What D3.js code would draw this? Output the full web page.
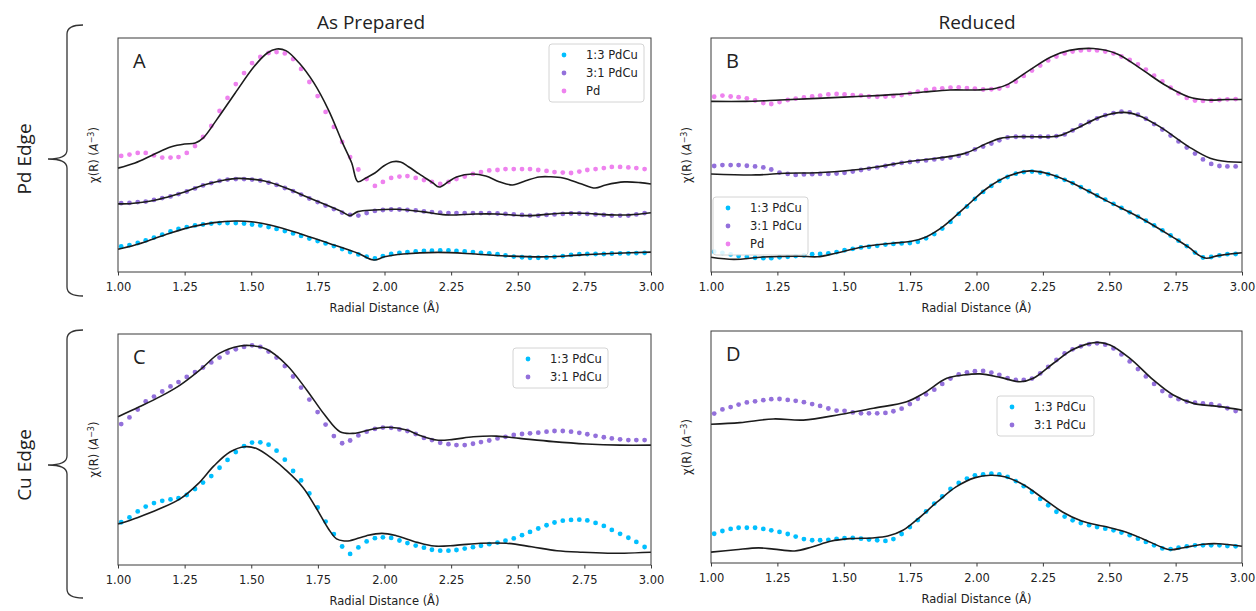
<!DOCTYPE html>
<html>
<head>
<meta charset="utf-8">
<script src="https://cdn.jsdelivr.net/npm/d3@7"></script>
<style>
  body { margin: 0; background: #fff; }
  text { fill: #222; }
</style>
</head>
<body>
<div id="fig"></div>
<script>
// R grid of the Fourier transform (Å) - one dot per point
const rGrid = [
  1.012,1.043,1.074,1.104,1.135,1.166,1.197,1.227,1.258,1.289,
  1.319,1.350,1.381,1.411,1.442,1.473,1.503,1.534,1.565,1.595,
  1.626,1.657,1.687,1.718,1.749,1.779,1.810,1.841,1.871,1.902,
  1.933,1.964,1.994,2.025,2.056,2.086,2.117,2.148,2.178,2.209,
  2.240,2.270,2.301,2.332,2.362,2.393,2.424,2.454,2.485,2.516,
  2.546,2.577,2.608,2.638,2.669,2.700,2.731,2.761,2.792,2.823,
  2.853,2.884,2.915,2.945,2.976
];
const xTicks = [1.00, 1.25, 1.50, 1.75, 2.00, 2.25, 2.50, 2.75, 3.00];
const seriesNames = ['1:3 PdCu', '3:1 PdCu', 'Pd'];
const columnTitles = ['As Prepared', 'Reduced'];
const rowTitles = ['Pd Edge', 'Cu Edge'];

// chi(R), stacked with offsets, arbitrary units (0-100 of panel height)
// --- A: Pd edge, as prepared
const aCyan = [
  10.9,11.5,12.4,13.5,14.7,16.0,17.3,18.4,19.2,19.9,
  20.3,20.7,20.9,20.9,20.9,20.7,20.3,19.9,19.2,18.4,
  17.5,16.5,15.4,14.3,13.2,12.2,11.1,9.8,8.5,7.5,
  6.6,5.8,6.8,7.7,8.2,8.5,8.8,9.0,9.1,9.2,
  9.2,9.0,8.8,8.5,8.2,8.0,7.6,7.1,6.6,6.3,
  6.1,6.1,6.2,6.5,6.8,7.3,7.6,7.7,7.7,7.7,
  7.9,8.0,8.0,8.1,8.2
];
const aPurple = [
  29.4,29.5,29.9,30.1,30.8,31.6,32.3,33.3,34.4,35.7,
  37.0,38.0,38.9,39.5,39.7,39.7,39.5,39.1,38.2,37.2,
  35.9,34.6,33.1,31.4,29.9,28.4,26.9,25.4,24.4,24.1,
  25.2,26.1,26.5,26.7,26.7,26.5,26.3,25.9,25.6,25.4,
  25.2,25.2,25.2,25.2,25.2,25.2,25.0,24.8,24.6,24.4,
  24.1,24.1,24.4,24.6,24.8,25.0,25.0,24.8,24.6,24.4,
  24.1,24.1,24.1,24.6,25.2
];
const aPink = [
  49.6,50.2,50.9,50.9,49.8,48.9,48.9,49.1,50.9,53.8,
  57.7,62.4,68.8,74.4,80.3,85.0,89.3,91.9,93.6,94.0,
  93.4,91.0,86.8,81.2,75.2,68.4,62.0,55.6,49.1,43.8,
  39.7,36.8,38.5,40.2,40.8,41.0,40.2,39.3,38.5,37.6,
  38.5,39.7,40.8,41.9,42.7,43.4,43.6,44.0,44.0,44.0,
  44.0,43.6,43.2,42.7,42.5,42.3,42.9,43.6,44.0,44.4,
  44.9,44.9,44.7,44.4,44.0
];
const aCyanFit = [[1.00,9.7],[1.064,11.5],[1.13,14.0],[1.20,16.8],[1.28,19.4],[1.36,21.1],[1.44,21.8],[1.50,21.5],[1.57,20.1],[1.68,16.5],[1.79,12.3],[1.90,8.0],[1.96,5.1],[2.00,6.5],[2.07,7.7],[2.20,8.4],[2.34,7.7],[2.47,6.8],[2.61,6.5],[2.74,7.3],[2.87,8.0],[3.00,8.5]];
const aPurpleFit = [[1.00,29.1],[1.05,29.3],[1.10,29.9],[1.15,31.0],[1.20,32.5],[1.25,34.2],[1.30,36.3],[1.35,38.0],[1.40,39.3],[1.45,40.0],[1.50,39.7],[1.55,38.9],[1.60,37.2],[1.65,35.0],[1.70,32.5],[1.75,30.1],[1.80,27.8],[1.84,25.8],[1.87,24.1],[1.90,25.8],[1.96,26.5],[2.045,26.8],[2.14,25.8],[2.23,24.4],[2.34,24.8],[2.42,24.8],[2.54,24.1],[2.66,25.1],[2.74,25.1],[2.85,24.4],[2.92,24.4],[3.00,25.3]];
const aPinkFit = [[1.00,44.4],[1.064,46.6],[1.13,50.0],[1.20,53.5],[1.25,54.7],[1.29,55.1],[1.32,57.3],[1.37,65.0],[1.44,76.5],[1.51,87.7],[1.56,93.6],[1.595,95.3],[1.63,94.6],[1.68,89.3],[1.735,80.8],[1.79,69.2],[1.843,55.1],[1.877,46.6],[1.90,38.6],[1.93,40.2],[1.964,42.3],[1.997,45.3],[2.03,47.1],[2.06,47.0],[2.09,45.0],[2.13,41.9],[2.18,38.2],[2.205,36.3],[2.24,38.6],[2.27,40.6],[2.33,41.9],[2.38,41.0],[2.43,38.6],[2.48,37.2],[2.53,39.0],[2.58,40.6],[2.62,40.7],[2.67,40.2],[2.74,37.6],[2.79,35.9],[2.83,37.2],[2.90,38.5],[2.96,38.2],[3.00,37.6]];

// --- B: Pd edge, reduced
const bCyan = [
  8.7,8.2,7.5,6.8,6.5,6.1,5.9,5.9,6.3,6.5,
  6.8,7.1,7.6,7.7,8.0,8.5,9.3,9.9,10.5,10.8,
  11.2,11.7,12.0,12.2,12.4,12.9,14.4,16.2,18.6,21.4,
  24.8,28.0,31.2,34.2,36.8,38.9,40.6,42.0,42.7,42.9,
  42.5,41.8,40.7,39.4,38.0,36.3,34.5,32.7,30.9,29.1,
  27.4,25.5,23.7,21.9,19.9,17.8,15.6,13.4,11.1,8.3,
  6.2,6.4,7.1,7.6,7.7
];
const bPurple = [
  45.3,45.7,45.7,45.7,45.4,45.1,44.7,43.8,42.5,41.9,
  41.5,41.7,41.8,41.9,41.9,42.1,42.4,42.9,43.6,44.2,
  44.7,45.3,46.0,46.6,47.0,47.4,47.7,48.1,48.5,48.9,
  49.6,50.6,52.4,53.6,54.9,56.3,57.5,57.8,57.8,57.8,
  57.8,57.8,58.1,58.8,60.5,62.6,64.1,65.6,67.0,67.9,
  68.5,68.2,67.2,65.5,63.2,60.9,58.3,55.8,53.2,50.6,
  48.1,46.2,45.3,45.1,45.1
];
const bPink = [
  74.9,75.4,75.0,74.7,74.2,73.3,72.2,71.8,72.6,73.5,
  74.1,74.6,75.0,75.4,75.9,76.1,75.9,75.6,75.4,75.0,
  74.9,75.0,75.2,75.6,76.3,77.1,77.8,78.2,78.5,78.8,
  78.9,78.6,78.4,78.0,78.1,78.4,79.5,81.4,83.8,86.1,
  88.2,90.4,92.1,93.4,94.2,94.7,94.9,94.7,94.2,93.4,
  92.1,90.6,88.7,86.5,83.9,81.4,78.8,76.3,74.4,73.3,
  73.1,73.2,73.5,73.8,73.9
];
const bCyanFit = [[1.00,6.3],[1.086,5.4],[1.195,6.4],[1.33,6.8],[1.40,6.5],[1.47,8.0],[1.575,10.8],[1.684,12.3],[1.75,13.0],[1.81,15.0],[1.875,19.5],[1.956,27.5],[2.04,35.8],[2.12,41.0],[2.20,43.2],[2.27,42.0],[2.35,38.6],[2.487,30.6],[2.62,23.0],[2.745,14.5],[2.80,10.5],[2.84,7.0],[2.865,5.9],[2.91,7.0],[3.00,8.2]];
const bPurpleFit = [[1.00,41.9],[1.17,41.5],[1.28,42.2],[1.40,42.4],[1.535,43.6],[1.63,45.0],[1.74,47.1],[1.85,48.6],[1.956,50.7],[2.04,55.0],[2.09,57.1],[2.15,57.8],[2.28,57.8],[2.32,58.5],[2.39,62.1],[2.47,66.4],[2.555,68.2],[2.61,66.9],[2.69,62.1],[2.80,53.5],[2.88,48.6],[2.95,47.1],[3.00,46.9]];
const bPinkFit = [[1.00,72.9],[1.13,72.9],[1.26,73.5],[1.40,74.2],[1.55,75.0],[1.70,75.9],[1.80,76.9],[1.90,77.8],[2.00,77.8],[2.07,78.4],[2.12,80.3],[2.20,86.3],[2.28,91.9],[2.35,94.7],[2.44,95.5],[2.53,93.2],[2.62,86.8],[2.71,79.9],[2.80,74.8],[2.87,73.5],[2.94,73.7],[3.00,73.7]];

// --- C: Cu edge, as prepared
const cCyan = [
  18.5,20.6,23.2,25.3,26.8,27.8,28.4,28.9,30.3,32.9,
  35.7,38.5,42.1,45.5,48.9,51.5,53.0,53.1,52.1,49.5,
  45.6,40.7,36.6,31.0,24.9,18.8,13.4,8.0,4.8,7.6,
  10.2,11.6,12.0,11.7,10.6,9.5,8.4,7.5,6.6,6.2,
  6.2,6.5,7.1,7.7,8.3,9.0,9.7,10.5,11.5,12.9,
  14.3,15.8,17.2,18.4,19.2,19.5,19.6,19.3,18.2,16.9,
  15.2,13.5,11.8,10.0,7.8
];
const cPurple = [
  61.0,63.9,67.3,70.8,72.9,75.1,77.3,79.2,81.4,83.5,
  85.5,87.7,89.8,92.0,93.4,94.4,95.1,94.4,92.4,89.8,
  86.1,81.6,76.8,71.6,66.2,60.8,55.8,52.7,53.9,56.1,
  57.7,58.9,59.5,59.4,58.7,58.0,56.7,55.0,54.1,52.9,
  52.3,51.9,51.9,52.5,53.2,53.9,54.8,55.5,56.3,56.7,
  57.0,57.3,57.7,58.0,58.0,57.7,57.2,56.6,55.9,55.3,
  54.8,54.4,54.1,54.1,54.1
];
const cCyanFit = [[1.00,17.7],[1.075,20.6],[1.154,24.2],[1.233,28.6],[1.30,35.1],[1.36,42.9],[1.42,48.9],[1.476,51.2],[1.52,50.4],[1.58,45.9],[1.63,41.1],[1.694,33.6],[1.742,25.0],[1.79,15.6],[1.82,11.3],[1.85,10.4],[1.87,10.5],[1.933,12.7],[1.99,13.7],[2.044,12.7],[2.123,9.8],[2.187,8.2],[2.266,8.5],[2.36,9.4],[2.457,9.4],[2.552,7.9],[2.647,6.2],[2.743,5.5],[2.838,5.1],[2.90,5.1],[3.00,5.5]];
const cPurpleFit = [[1.00,64.2],[1.08,68.5],[1.158,72.9],[1.233,77.9],[1.31,84.7],[1.38,91.6],[1.458,94.8],[1.495,95.0],[1.558,93.4],[1.633,86.6],[1.708,75.8],[1.776,64.9],[1.833,57.7],[1.883,57.0],[1.958,58.9],[2.014,59.6],[2.083,58.4],[2.133,56.1],[2.195,54.1],[2.258,54.4],[2.333,55.5],[2.42,55.8],[2.508,54.8],[2.633,53.4],[2.758,52.4],[2.883,51.9],[3.00,51.9]];

// --- D: Cu edge, reduced
const dCyan = [
  12.6,13.8,14.7,15.2,15.2,15.2,14.7,14.1,13.4,12.5,
  11.4,10.3,9.8,9.8,10.0,10.4,10.7,10.8,10.5,10.1,
  9.8,9.5,10.3,12.5,15.5,18.5,22.2,25.6,28.7,31.9,
  34.5,36.4,37.8,38.2,38.5,38.2,37.1,35.3,33.1,30.6,
  27.6,24.9,22.1,20.0,18.4,17.2,16.3,15.5,14.8,14.1,
  13.1,12.0,10.5,9.1,7.6,6.3,6.0,6.6,7.2,7.6,
  7.6,7.6,7.6,7.3,7.2
];
const dPurple = [
  64.4,66.2,67.2,68.3,69.2,69.7,70.2,70.6,70.7,70.3,
  69.9,69.3,68.5,67.7,66.6,65.7,65.6,64.9,64.5,64.5,
  64.5,64.7,65.4,66.5,68.5,70.8,72.7,74.7,77.2,79.5,
  81.3,82.2,82.7,82.8,82.1,81.1,79.7,78.9,78.9,79.5,
  81.7,84.5,87.5,90.3,92.1,93.4,94.3,94.7,94.1,92.5,
  89.9,86.9,83.6,80.4,77.2,74.1,72.0,70.6,69.6,69.1,
  68.8,68.5,67.8,66.7,65.5
];
const dCyanFit = [[1.00,4.7],[1.093,5.7],[1.179,6.5],[1.236,6.0],[1.315,5.2],[1.38,6.9],[1.45,9.4],[1.522,10.5],[1.608,10.8],[1.666,11.6],[1.723,14.1],[1.78,19.1],[1.852,26.3],[1.923,32.8],[1.995,36.8],[2.052,37.8],[2.11,37.1],[2.18,33.5],[2.253,27.7],[2.324,22.0],[2.396,18.1],[2.48,15.8],[2.553,13.7],[2.625,10.5],[2.696,6.9],[2.73,5.7],[2.78,6.6],[2.855,8.1],[2.91,8.3],[3.00,7.2]];
const dPurpleFit = [[1.00,59.8],[1.109,60.5],[1.235,62.1],[1.348,61.6],[1.486,64.0],[1.612,66.7],[1.737,69.5],[1.80,73.1],[1.888,79.6],[1.95,81.0],[2.013,81.5],[2.09,80.0],[2.164,78.1],[2.214,79.6],[2.29,86.1],[2.365,92.1],[2.453,95.1],[2.503,94.0],[2.578,88.2],[2.666,78.9],[2.741,72.4],[2.817,68.8],[2.917,67.4],[3.00,65.9]];

// styles
const colors = { cyan: '#00bfff', purple: '#9370db', pink: '#ee82ee' };
const tickFont = '"DejaVu Sans", sans-serif';
const titleFont = '"Open Sans", "Liberation Sans", sans-serif';

const panels = [
  { letter: 'A', box: { x0: 118, x1: 651, y0: 38, y1: 272 },
    series: [
      { color: colors.cyan, values: aCyan, fit: aCyanFit },
      { color: colors.purple, values: aPurple, fit: aPurpleFit },
      { color: colors.pink, values: aPink, fit: aPinkFit }
    ],
    legend: { x: 549, y: 44, w: 95, n: 3 } },
  { letter: 'B', box: { x0: 711, x1: 1242, y0: 38, y1: 272 },
    series: [
      { color: colors.cyan, values: bCyan, fit: bCyanFit },
      { color: colors.purple, values: bPurple, fit: bPurpleFit },
      { color: colors.pink, values: bPink, fit: bPinkFit }
    ],
    legend: { x: 713, y: 197, w: 95, n: 3 } },
  { letter: 'C', box: { x0: 118, x1: 651, y0: 334, y1: 565 },
    series: [
      { color: colors.cyan, values: cCyan, fit: cCyanFit },
      { color: colors.purple, values: cPurple, fit: cPurpleFit }
    ],
    legend: { x: 513, y: 348, w: 95, n: 2 } },
  { letter: 'D', box: { x0: 711, x1: 1242, y0: 331, y1: 563 },
    series: [
      { color: colors.cyan, values: dCyan, fit: dCyanFit },
      { color: colors.purple, values: dPurple, fit: dPurpleFit }
    ],
    legend: { x: 997, y: 396, w: 97, n: 2 } }
];

const svg = d3.select('#fig').append('svg')
  .attr('width', 1256)
  .attr('height', 611)
  .style('display', 'block');

function drawPanel(p) {
  const b = p.box;
  const x = d3.scaleLinear().domain([1, 3]).range([b.x0, b.x1]);
  const y = d3.scaleLinear().domain([0, 100]).range([b.y1, b.y0]);
  const g = svg.append('g');

  const line = d3.line()
    .x(d => x(d[0]))
    .y(d => y(d[1]))
    .curve(d3.curveCatmullRom.alpha(0.5));

  // data dots, then the fit on top
  p.series.forEach(s => {
    g.append('g').selectAll('circle')
      .data(s.values)
      .enter().append('circle')
        .attr('cx', (d, i) => x(rGrid[i]))
        .attr('cy', d => y(d))
        .attr('r', 2.4)
        .attr('fill', s.color);
    g.append('path')
      .datum(s.fit)
      .attr('d', line)
      .attr('fill', 'none')
      .attr('stroke', '#1c1c1c')
      .attr('stroke-width', 1.6);
  });

  // frame
  g.append('rect')
    .attr('x', b.x0).attr('y', b.y0)
    .attr('width', b.x1 - b.x0).attr('height', b.y1 - b.y0)
    .attr('fill', 'none')
    .attr('stroke', '#3a3a3a')
    .attr('stroke-width', 1);

  // x axis
  const ax = g.append('g')
    .attr('transform', `translate(0,${b.y1})`)
    .call(d3.axisBottom(x).tickValues(xTicks).tickFormat(d3.format('.2f'))
      .tickSize(3.5).tickSizeOuter(0).tickPadding(7));
  ax.select('.domain').remove();
  ax.selectAll('line').attr('stroke', '#3a3a3a');
  ax.selectAll('text')
    .attr('font-family', tickFont)
    .attr('font-size', '11.5px')
    .attr('fill', '#333');

  g.append('text')
    .attr('x', (b.x0 + b.x1) / 2)
    .attr('y', b.y1 + 40)
    .attr('text-anchor', 'middle')
    .attr('font-family', tickFont)
    .attr('font-size', '11.5px')
    .attr('fill', '#333')
    .text('Radial Distance (Å)');

  // y label
  const yl = g.append('text')
    .attr('transform', `translate(${b.x0 - 20},${(b.y0 + b.y1) / 2}) rotate(-90)`)
    .attr('text-anchor', 'middle')
    .attr('font-family', tickFont)
    .attr('font-size', '11.5px')
    .attr('fill', '#333');
  yl.append('tspan').text('χ(R) (');
  yl.append('tspan').attr('font-style', 'italic').text('A');
  yl.append('tspan').attr('dy', -4).attr('font-size', '8px').text('−3');
  yl.append('tspan').attr('dy', 4).text(')');

  // panel letter
  g.append('text')
    .attr('x', b.x0 + 15)
    .attr('y', b.y0 + 30)
    .attr('font-family', titleFont)
    .attr('font-size', '20px')
    .attr('fill', '#111')
    .text(p.letter);

  // legend
  const L = p.legend;
  const lg = g.append('g').attr('transform', `translate(${L.x},${L.y})`);
  lg.append('rect')
    .attr('width', L.w)
    .attr('height', L.n * 18 + 4)
    .attr('rx', 3)
    .attr('fill', 'rgba(255,255,255,0.85)')
    .attr('stroke', '#d4d4d4');
  p.series.forEach((s, i) => {
    lg.append('circle')
      .attr('cx', 15).attr('cy', 11 + i * 18)
      .attr('r', 2.4)
      .attr('fill', s.color);
    lg.append('text')
      .attr('x', 37).attr('y', 11 + i * 18)
      .attr('dy', '0.35em')
      .attr('font-family', tickFont)
      .attr('font-size', '11.5px')
      .attr('fill', '#333')
      .text(seriesNames[i]);
  });
}

panels.forEach(drawPanel);

// column titles
[[371, columnTitles[0]], [977, columnTitles[1]]].forEach(([cx, t]) => {
  svg.append('text')
    .attr('x', cx).attr('y', 29)
    .attr('text-anchor', 'middle')
    .attr('font-family', titleFont)
    .attr('font-size', '19px')
    .attr('fill', '#111')
    .text(t);
});

// row titles with braces
[[159, 25, 296, rowTitles[0]], [465, 330, 598, rowTitles[1]]].forEach(([cy, top, bot, t]) => {
  svg.append('path')
    .attr('d', `M83,${top} Q67,${top} 67,${top + 9} L67,${cy - 9} Q67,${cy} 48,${cy} ` +
               `Q67,${cy} 67,${cy + 9} L67,${bot - 9} Q67,${bot} 83,${bot}`)
    .attr('fill', 'none')
    .attr('stroke', '#333')
    .attr('stroke-width', 1.3);
  svg.append('text')
    .attr('transform', `translate(31,${cy}) rotate(-90)`)
    .attr('text-anchor', 'middle')
    .attr('font-family', titleFont)
    .attr('font-size', '19px')
    .attr('fill', '#111')
    .text(t);
});
</script>
</body>
</html>
